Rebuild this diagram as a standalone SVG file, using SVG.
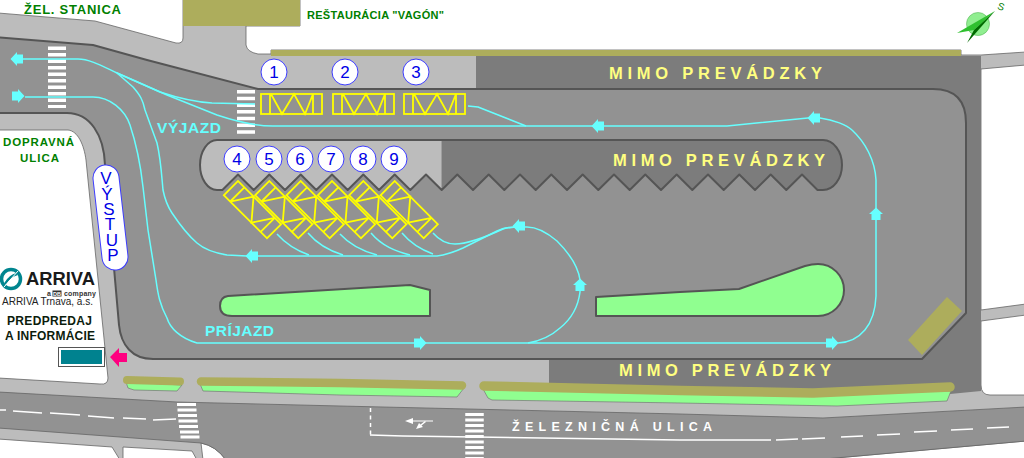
<svg xmlns="http://www.w3.org/2000/svg" xmlns:xlink="http://www.w3.org/1999/xlink" width="1024" height="458" viewBox="0 0 1024 458">
<style>
.white{fill:#fff;stroke:#666;stroke-width:.8}
.road{fill:#929292}
.edge{stroke:#555;stroke-width:2;stroke-linejoin:round}
.dark{fill:#7c7c7c}
.olive{fill:#adad5c}
.oliveline{fill:none;stroke:#adad5c;stroke-linecap:round;stroke-linejoin:round}
.green{fill:#90ff90}
.vgreen{fill:#90ff90;stroke:#777;stroke-width:.7}
.cy{fill:none;stroke:#66ffff;stroke-width:1.5;stroke-linejoin:round}
.arrow{fill:#66ffff}
.bay{fill:none;stroke:#ffff00;stroke-width:1.8}
.num{fill:#fff;stroke:#3c3cff;stroke-width:1}
.numt{font:17px "Liberation Sans",Arial,sans-serif;fill:#0000e6;text-anchor:middle}
.mimo{font:bold 16.5px "Liberation Sans",Arial,sans-serif;fill:#ffff80}
.lab{font:bold 15.5px "Liberation Sans",Arial,sans-serif;fill:#66ffff}
.gr{font:bold 11.5px "Liberation Sans",Arial,sans-serif;fill:#008000}
.blk{font:bold 12px "Liberation Sans",Arial,sans-serif;fill:#0c1c0c}
.zebra{fill:none;stroke:#fff}
.mark{fill:none;stroke:#fff;stroke-width:1.5}
</style>
<defs>
<path id="arr" d="M-6-4.500H0V-7L6.500 0 0 7V4.500H-6Z"/>
<g id="baybox">
<rect x="0" y="0" width="61" height="20"/>
<path d="M9 0V20M52 0V20M9 20 22 0 39 20 52 0"/>
</g>
<g id="bayh">
<rect x="0" y="0" width="61" height="20"/>
<path d="M9 0V20M52 0V20M10 0 21 20 33 0 44 20 52 0"/>
</g>
</defs>

<g id="ground">
<rect width="1024" height="458" fill="#bcbcbc"/>
<path class="white" d="M-2-2H183V38Q183 44 176 43L95 21-2 13Z"/>
<path class="white" d="M300-2H1026V52L981 55 961 55V50H271V54L258 54Q247 52 246 45V26H300Z"/>
<path class="white" d="M-2 130H68C78 131 84 145 86 160L108 378Q108 385 100 384L-2 378Z"/>
<path class="white" d="M981 69 1026 65V304L981 310Z"/>
<path class="white" d="M981 321 1026 315V395H990Q981 395 981 385Z"/>
<path class="white" d="M-2 439 112 447 120 460H-2Z"/>
<path class="white" d="M123 447 192 451 197 460H123Z"/>
<path class="white" d="M201 443Q216 446 226 460H203Z"/>
<path class="white" d="M1026 441 813 460H1026Z"/>
<path class="road" stroke="#666" stroke-width=".8" d="M-2 392 177 402 340 406 680 414 823 418 1026 407V441L813 460H226Q216 446 201 443L-2 428Z"/>
<path class="dark" d="M476 56H981V391L950 394 850 402 680 394 549 386V359H476Z"/>
<rect class="olive" x="183" y="0" width="117" height="26"/>
<rect class="olive" x="271" y="50" width="690" height="6"/>
<path class="road edge" d="M-5 37 93 45 147 60 258 89H933Q966 89 966 123V313L922 359H153C132 359 121 345 119 325L105 165C104 135 90 113 67 113H-5Z"/>
</g>

<g id="island">
<path fill="#bcbcbc" d="M441.700 190 426 174.500 410.300 190 394.700 174.500 379 190 363.300 174.500 347.700 190 332 174.500 316.300 190 300.700 174.500 285 190 269.300 174.500 253.700 190 238 174.500 222.400 190H217A17 25 0 0 1 217 140H441.700Z"/>
<path class="dark" d="M441.700 190 457.300 174.500 473 190 488.700 174.500 504.300 190 520 174.500 535.700 190 551.300 174.500 567 190 582.700 174.500 598.300 190 614 174.500 629.700 190 645.300 174.500 661 190 676.700 174.500 692.300 190 708 174.500 723.700 190 739.300 174.500 755 190 770.700 174.500 786.300 190 802 174.500 817.500 190H823A19 25 0 0 0 823 140H441.700Z"/>
<path fill="none" class="edge" d="M217 140H823A19 25 0 0 1 823 190H817.500L802 174.500 786.300 190 770.700 174.500 755 190 739.300 174.500 723.700 190 708 174.500 692.300 190 676.700 174.500 661 190 645.300 174.500 629.700 190 614 174.500 598.300 190 582.700 174.500 567 190 551.300 174.500 535.700 190 520 174.500 504.300 190 488.700 174.500 473 190 457.300 174.500 441.700 190 426 174.500 410.300 190 394.700 174.500 379 190 363.300 174.500 347.700 190 332 174.500 316.300 190 300.700 174.500 285 190 269.300 174.500 253.700 190 238 174.500 222.400 190H217A17 25 0 0 1 217 140Z"/>
</g>

<g id="greenery">
<path class="green edge" d="M228 296 410 285 430 290V316H232Q220 316 220 306 220 297 228 296Z"/>
<path class="green edge" d="M596 297 680 292 739 289 805 266Q812 264 818 264A26 26 0 0 1 818 316H596Z"/>
<path class="olive" d="M947 297 962 311 922 355 908 340Z"/>
<path class="vgreen" d="M126 382 128 388 134 390 177 391 182 385Z"/>
<path class="vgreen" d="M200 384 203 391 340 395 457 397 464 388Z"/>
<path class="vgreen" d="M483 389 488 398 492 400 680 403 837 406 947 401 951 391Z"/>
<path class="oliveline" stroke-width="8" d="M127 380 180 381.500"/>
<path class="oliveline" stroke-width="8.500" d="M201 381.500 340 383 462 385.500"/>
<path class="oliveline" stroke-width="9.500" d="M484 386 680 390.500 813 393 950 387"/>
</g>

<g id="road-markings">
<path class="zebra" stroke-width="18" stroke-dasharray="3.500 3" d="M57 46.500V108"/>
<path class="zebra" stroke-width="18" stroke-dasharray="3.500 3.200" d="M246 90V136"/>
<path class="zebra" stroke-width="3" d="M177 404.500H196M177.500 410H196.500M178 415.500H197M178.500 421H197.500M179 426.500H198M180 432H199M180.500 437H199.500"/>
<path class="zebra" stroke-width="18.500" stroke-dasharray="3 2.500" d="M474.500 413V458"/>
<path class="mark" d="M13 411 42 413M50 413 80 415M88 416 114 418M123 418 146 419M153 420 176 419M0 410 6 410"/>
<path class="mark" d="M370 435 403 436 680 440 771 440M776 440 798 439M802 439 825 438M841 437 863 436M877 435 900 434M914 432 937 431M951 430 973 429M987 428 1009 427"/>
<path class="mark" stroke-width="3" stroke-dasharray="4 3.500" d="M370.500 408V435"/>
<path fill="#fff" d="M405 421 413 418V420.500H433V421.500H413V424Z"/>
<path fill="#fff" d="M416 429 419 423 420.500 424.500 425 421 426 422 421.500 425.500 423 427Z"/>
</g>

<g id="connectors">
<path class="cy" d="M23 59H78C90 59 104 67 117 73L160 92C175 97 195 102 212 103L255 104"/>
<path class="cy" d="M117 73 167 95 217 115C235 121 255 126 273 126H727L808 118H820C834 120 847 125 852 130 865 142 875 160 876 180V296C875 325 860 342 838 343H197C180 338 170 328 167 318 160 305 158 295 156 280L148 230 143 187C140 160 135 140 130 125 125 110 110 97 93 97H25"/>
<path class="cy" d="M117 73 133 87C140 95 143 100 145 110L157 143C161 160 162 180 163 190 165 200 168 207 172 213 180 225 190 237 197 243 205 250 215 253 227 255L247 256H437C445 255 452 253 463 248L497 231C503 228 510 227 515 227"/>
<path class="cy" d="M525 227C538 226 550 235 557 241 568 252 578 265 580 280V292C578 308 570 320 560 328 550 337 540 341 528 343"/>
<path class="cy" d="M277 234C285 243 295 250 309 255M308 233C318 245 330 251 343 255M340 234C350 245 362 251 377 255M371 233C382 246 395 251 410 255M402 233C412 245 422 250 433 254M433 233C440 241 447 244 455 244 470 244 490 235 503 229 510 227 515 227 520 227"/>
<path class="cy" d="M468 106 478 107 526 126"/>
<use href="#arr" class="arrow" transform="translate(17 59) rotate(180)"/>
<use href="#arr" class="arrow" transform="translate(18 96)"/>
<use href="#arr" class="arrow" transform="translate(598 126) rotate(180)"/>
<use href="#arr" class="arrow" transform="translate(814 118) rotate(180)"/>
<use href="#arr" class="arrow" transform="translate(876 214) rotate(-90)"/>
<use href="#arr" class="arrow" transform="translate(832 343)"/>
<use href="#arr" class="arrow" transform="translate(420 343)"/>
<use href="#arr" class="arrow" transform="translate(580 285) rotate(-90)"/>
<use href="#arr" class="arrow" transform="translate(519 226) rotate(180)"/>
<use href="#arr" class="arrow" transform="translate(252 256) rotate(180)"/>
</g>

<g id="bay-1"><use href="#bayh" class="bay" x="261" y="94"/><circle class="num" cx="274" cy="72" r="13"/><text class="numt" x="274" y="78">1</text></g>
<g id="bay-2"><use href="#bayh" class="bay" x="333" y="94"/><circle class="num" cx="345" cy="72" r="13"/><text class="numt" x="345" y="78">2</text></g>
<g id="bay-3"><use href="#bayh" class="bay" x="404" y="94"/><circle class="num" cx="416" cy="72" r="13"/><text class="numt" x="416" y="78">3</text></g>
<g id="bay-4"><use href="#baybox" class="bay" transform="translate(238 181) rotate(45)"/><circle class="num" cx="237" cy="159" r="13"/><text class="numt" x="237" y="165">4</text></g>
<g id="bay-5"><use href="#baybox" class="bay" transform="translate(269.300 181) rotate(45)"/><circle class="num" cx="269" cy="159" r="13"/><text class="numt" x="269" y="165">5</text></g>
<g id="bay-6"><use href="#baybox" class="bay" transform="translate(300.700 181) rotate(45)"/><circle class="num" cx="300" cy="159" r="13"/><text class="numt" x="300" y="165">6</text></g>
<g id="bay-7"><use href="#baybox" class="bay" transform="translate(332 181) rotate(45)"/><circle class="num" cx="331" cy="159" r="13"/><text class="numt" x="331" y="165">7</text></g>
<g id="bay-8"><use href="#baybox" class="bay" transform="translate(363.300 181) rotate(45)"/><circle class="num" cx="363" cy="159" r="13"/><text class="numt" x="363" y="165">8</text></g>
<g id="bay-9"><use href="#baybox" class="bay" transform="translate(394.700 181) rotate(45)"/><circle class="num" cx="394" cy="159" r="13"/><text class="numt" x="394" y="165">9</text></g>

<g id="vystup">
<path fill="none" stroke="#3c3cff" stroke-width="27" stroke-linecap="round" d="M106 178 115 257"/>
<path fill="none" stroke="#fff" stroke-width="25" stroke-linecap="round" d="M106 178 115 257"/>
<text font-family="'Liberation Sans',Arial,sans-serif" font-size="17" fill="#0000e6" text-anchor="middle" x="106 107 109 110 112 113" y="184 200 215 230 246 261">VÝSTUP</text>
</g>

<g id="predpredaj">
<rect x="58.500" y="347.500" width="46" height="19" fill="#fff" stroke="#555" stroke-width="1"/>
<rect x="61" y="350" width="41" height="14" fill="#00828f"/>
<path fill="#ff0080" d="M110 357 119 348V353H127V362H119V367Z"/>
</g>

<g id="compass">
<circle cx="978" cy="24" r="11.500" fill="#90ee90" stroke="#5cb85c" stroke-width=".6"/>
<path fill="#2fc02f" d="M995 11 957 33 974 30Z"/>
<path fill="#006a00" d="M995 11 974 30 967 43Z"/>
<text transform="translate(1000 10) rotate(20)" font-family="'Liberation Sans',Arial,sans-serif" font-size="10" fill="#008000" text-anchor="middle">S</text>
</g>

<g id="arriva-logo">
<circle cx="11" cy="279" r="9.500" fill="none" stroke="#00858f" stroke-width="3.500"/>
<path fill="none" stroke="#00858f" stroke-width="2.500" d="M5 284C9 277 13 275 17 274"/>
<path fill="none" stroke="#fff" stroke-width="1" d="M4 287 18 271"/>
<text x="26" y="285" font-family="'Liberation Sans',Arial,sans-serif" font-size="19" font-weight="bold" fill="#1a1a1a" textLength="69" lengthAdjust="spacingAndGlyphs">ARRIVA</text>
<text x="47" y="296" font-family="'Liberation Sans',Arial,sans-serif" font-size="7" font-weight="bold" fill="#333">a</text>
<rect x="52.500" y="290.500" width="9" height="6" fill="#333"/>
<text x="57" y="295.800" font-family="'Liberation Sans',Arial,sans-serif" font-size="5.500" font-weight="bold" fill="#fff" text-anchor="middle">DB</text>
<text x="64" y="296" font-family="'Liberation Sans',Arial,sans-serif" font-size="7" font-weight="bold" fill="#333" textLength="32">company</text>
<text x="2" y="305" font-family="'Liberation Sans',Arial,sans-serif" font-size="10.500" fill="#222" textLength="91" lengthAdjust="spacingAndGlyphs">ARRIVA Trnava, a.s.</text>
</g>

<g id="labels">
<text class="gr" style="font-size:13px" x="24" y="14" textLength="97">ŽEL. STANICA</text>
<text class="gr" style="font-size:11px" x="307" y="19" textLength="137">REŠTAURÁCIA "VAGÓN"</text>
<text class="gr" x="3" y="146" textLength="71">DOPRAVNÁ</text>
<text class="gr" x="20" y="162" textLength="39">ULICA</text>
<text class="lab" x="157" y="133" textLength="64">VÝJAZD</text>
<text class="lab" x="205" y="336" textLength="69">PRÍJAZD</text>
<text class="mimo" x="609" y="79" textLength="213">MIMO PREVÁDZKY</text>
<text class="mimo" x="613" y="166" textLength="212">MIMO PREVÁDZKY</text>
<text class="mimo" x="619" y="376" textLength="212">MIMO PREVÁDZKY</text>
<text x="512" y="431" font-family="'Liberation Sans',Arial,sans-serif" font-size="12.500" font-weight="bold" fill="#fff" textLength="200">ŽELEZNIČNÁ ULICA</text>
<text class="blk" x="7" y="325" textLength="85">PREDPREDAJ</text>
<text class="blk" x="5" y="340" textLength="90">A INFORMÁCIE</text>
</g>
</svg>
